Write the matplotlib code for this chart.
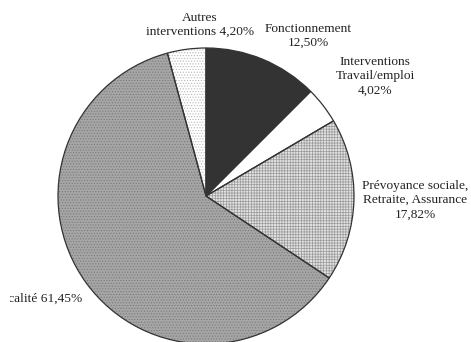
import matplotlib.pyplot as plt
from matplotlib.transforms import Bbox, TransformedBbox

# parts du budget (en %)
postes = ['Fonctionnement', 'Interventions Travail/emploi',
          'Prévoyance sociale, Retraite, Assurance', 'Fiscalité',
          'Autres interventions']
parts = [12.50, 4.02, 17.82, 61.45, 4.20]
etiquettes = ['Fonctionnement\n12,50%', 'Interventions\nTravail/emploi\n4,02%',
              'Prévoyance sociale,\nRetraite, Assurance\n17,82%',
              'Fiscalité 61,45%', 'Autres\ninterventions 4,20%']

couleurs = ['#333333', '#ffffff', '#e2e2e2', '#a6a6a6', '#ffffff']
hachures = [None, None, '++++++', '......', '......']
coul_hach = ['#333333', '#ffffff', '#9a9a9a', '#7a7a7a', '#b8b8b8']

plt.rcParams['font.family'] = ['Liberation Serif', 'DejaVu Serif']
plt.rcParams['hatch.linewidth'] = 0.5

fig = plt.figure(figsize=(4.71, 3.42), dpi=100)
ax = fig.add_axes([0, 0, 1, 1])

centre = (206, 146)
rayon = 148

# remplissage + trames
wedges, _ = ax.pie(parts, colors=couleurs, startangle=90, counterclock=False,
                   center=centre, radius=rayon, frame=True,
                   wedgeprops=dict(linewidth=0))
for w, h, c in zip(wedges, hachures, coul_hach):
    if h:
        w.set_hatch(h)
        w.set_edgecolor(c)
        w.set_linewidth(0)

# contours
ax.pie(parts, colors=['none'] * len(parts), startangle=90, counterclock=False,
       center=centre, radius=rayon, frame=True,
       wedgeprops=dict(linewidth=0.9, edgecolor='#333333', fill=False))
ax.set_xlim(0, 471)
ax.set_ylim(0, 342)
ax.set_aspect('equal')
ax.axis('off')

# zone de tracé d'origine : l'étiquette de gauche y est rognée
zone = TransformedBbox(Bbox([[10, 0], [471, 342]]), ax.transData)

pos = [(308, 306, 'center'), (375, 266, 'center'), (415, 142, 'center'),
       (82, 43, 'right'), (200, 317, 'center')]
for txt, (x, y, ha) in zip(etiquettes, pos):
    t = ax.text(x, y, txt, ha=ha, va='center', fontsize=9.6, linespacing=1.25,
                color='#222222')
    t.set_clip_box(zone)
    t.set_clip_on(True)

fig.savefig('out.png', dpi=100)
